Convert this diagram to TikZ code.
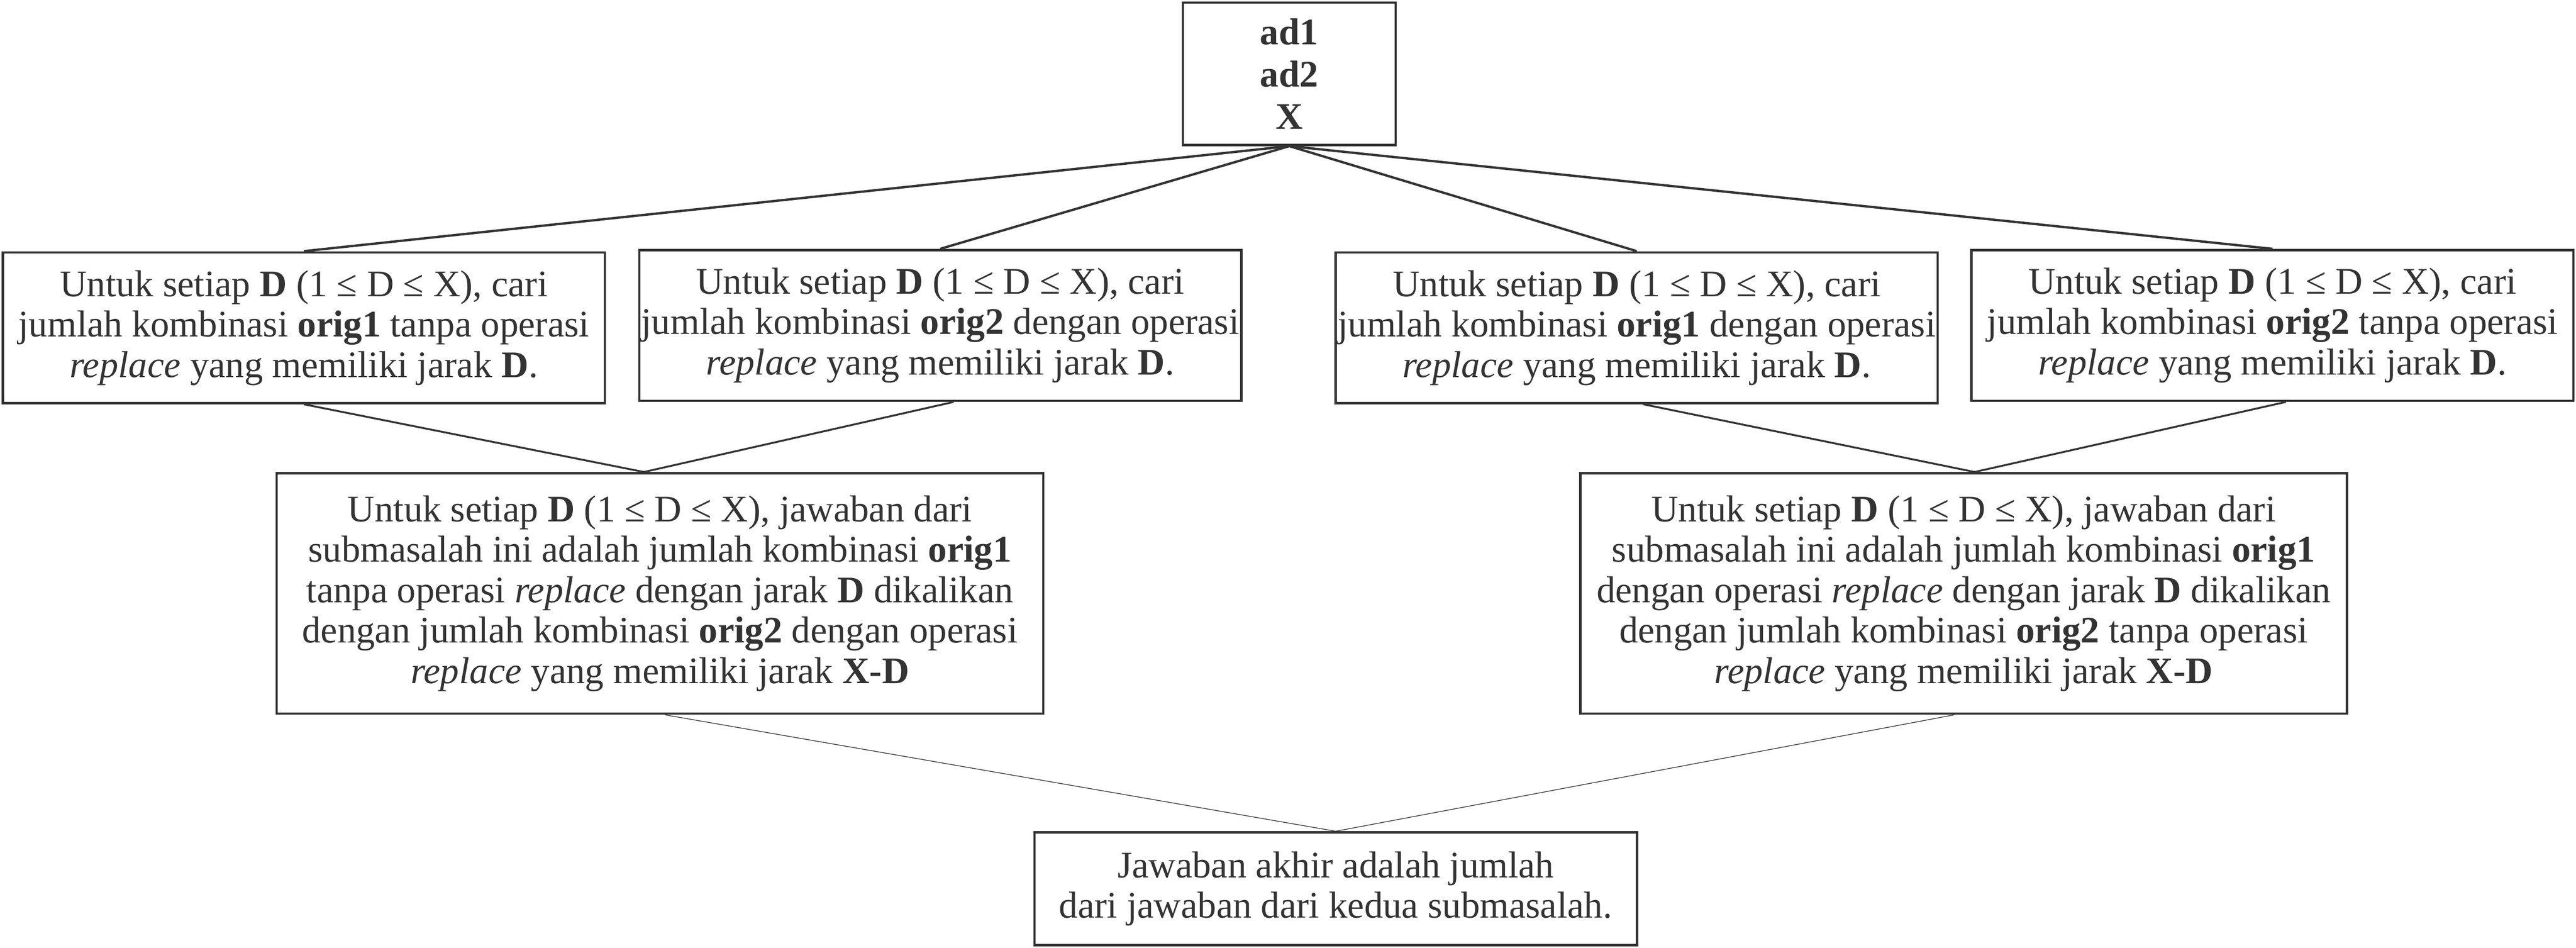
\documentclass[tikz,border=0pt]{standalone}
\usepackage{fontspec}
\setmainfont{Liberation Serif}
\definecolor{ink}{HTML}{333333}
\tikzset{
  kotak/.style={draw=ink, text=ink, line width=2pt, align=center, inner sep=0pt,
    font=\fontsize{32}{34.5}\selectfont},
  atas/.style={kotak, minimum width=6.38cm, minimum height=4.27cm,
    font=\fontsize{32}{36}\selectfont\bfseries},
  sub/.style={kotak, minimum width=18.05cm, minimum height=4.52cm},
  gabung/.style={kotak, minimum width=22.98cm, minimum height=7.21cm},
  akhir/.style={kotak, minimum width=18.06cm, minimum height=3.38cm},
  garis/.style={draw=ink, line width=2pt},
  garissub/.style={draw=ink, line width=1.6pt},
  garistipis/.style={draw=ink, line width=0.6pt}
}

\begin{document}
\begin{tikzpicture}
    \useasboundingbox (0,0) rectangle (77.23,-28.42);
    \node[atas] (ad) at (38.655,-2.21) {ad1\\ ad2\\ X};
    \node[sub] (s1) at (9.11,-9.825) {Untuk setiap \textbf{D} (1 ≤ D ≤ X), cari\\ jumlah kombinasi \textbf{orig1} tanpa operasi\\ \textit{replace} yang memiliki jarak \textbf{D}.};
    \node[sub] (s2) at (28.19,-9.755) {Untuk setiap \textbf{D} (1 ≤ D ≤ X), cari\\ jumlah kombinasi \textbf{orig2} dengan operasi\\ \textit{replace} yang memiliki jarak \textbf{D}.};
    \node[sub] (s3) at (49.07,-9.825) {Untuk setiap \textbf{D} (1 ≤ D ≤ X), cari\\ jumlah kombinasi \textbf{orig1} dengan operasi\\ \textit{replace} yang memiliki jarak \textbf{D}.};
    \node[sub] (s4) at (68.13,-9.755) {Untuk setiap \textbf{D} (1 ≤ D ≤ X), cari\\ jumlah kombinasi \textbf{orig2} tanpa operasi\\ \textit{replace} yang memiliki jarak \textbf{D}.};
    \node[gabung] (g1) at (19.785,-17.79) {Untuk setiap \textbf{D} (1 ≤ D ≤ X), jawaban dari\\ submasalah ini adalah jumlah kombinasi \textbf{orig1}\\ tanpa operasi \textit{replace} dengan jarak \textbf{D} dikalikan\\ dengan jumlah kombinasi \textbf{orig2} dengan operasi\\ \textit{replace} yang memiliki jarak \textbf{X-D}};
    \node[gabung] (g2) at (58.87,-17.79) {Untuk setiap \textbf{D} (1 ≤ D ≤ X), jawaban dari\\ submasalah ini adalah jumlah kombinasi \textbf{orig1}\\ dengan operasi \textit{replace} dengan jarak \textbf{D} dikalikan\\ dengan jumlah kombinasi \textbf{orig2} tanpa operasi\\ \textit{replace} yang memiliki jarak \textbf{X-D}};
    \node[akhir] (hasil) at (40.045,-26.645) {Jawaban akhir adalah jumlah\\ dari jawaban dari kedua submasalah.};
    \foreach \s in {s1,s2,s3,s4}
        \draw[garis] (ad.south) -- (\s.north);
    \draw[garissub] (s1.south) -- ([xshift=-4.8mm]g1.north);
    \draw[garissub] ([xshift=4mm]s2.south) -- ([xshift=-4.8mm]g1.north);
    \draw[garissub] ([xshift=2mm]s3.south) -- ([xshift=3.3mm]g2.north);
    \draw[garissub] ([xshift=4mm]s4.south) -- ([xshift=3.3mm]g2.north);
    \draw[garistipis] ([xshift=1.5mm]g1.south) -- (hasil.north);
    \draw[garistipis] ([xshift=-2.8mm]g2.south) -- (hasil.north);
\end{tikzpicture}
\end{document}
